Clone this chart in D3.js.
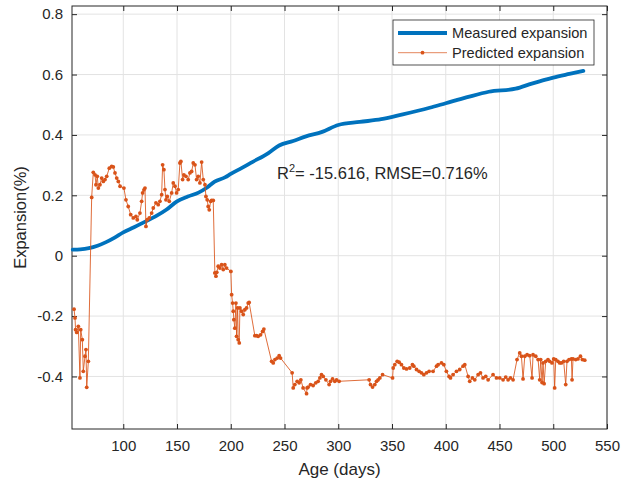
<!DOCTYPE html>
<html>
<head>
<meta charset="utf-8">
<script src="https://cdn.jsdelivr.net/npm/d3@7"></script>
<style>
  html, body { margin: 0; padding: 0; background: #fff; }
  svg { display: block; }
  text { font-family: "Liberation Sans", Arial, Helvetica, sans-serif; fill: #262626; }
</style>
</head>
<body>
<svg id="chart" width="621" height="483"></svg>
<script>
// Measured expansion (%) against age (days)
const measuredAge = [53, 60, 68, 76, 84, 92, 100, 110, 120, 130, 140, 150, 160, 170, 178, 185, 195, 200, 210, 220, 235, 245, 258, 270, 285, 300, 320, 340, 360, 385, 400, 420, 440, 465, 480, 500, 515, 528];
const measuredExp = [0.020, 0.021, 0.025, 0.033, 0.045, 0.060, 0.077, 0.094, 0.112, 0.130, 0.152, 0.180, 0.196, 0.209, 0.226, 0.245, 0.260, 0.271, 0.290, 0.310, 0.340, 0.365, 0.380, 0.395, 0.410, 0.433, 0.443, 0.452, 0.468, 0.490, 0.505, 0.525, 0.543, 0.553, 0.570, 0.590, 0.602, 0.612];

// Predicted expansion (%) against age (days)
const predictedAge = [54.2, 55.1, 55.6, 56.7, 58.2, 59.7, 60.4, 61.9, 62.8, 64.4, 65.3, 66.0, 67.5, 70.6, 72.1, 73.7, 74.6, 75.8, 76.8, 78.3, 79.9, 81.4, 83.0, 84.6, 87.0, 89.2, 90.7, 92.3, 93.9, 95.4, 97.0, 100.6, 102.5, 104.6, 106.9, 109.3, 111.8, 113.0, 115.5, 117.1, 118.0, 119.2, 120.2, 121.1, 122.3, 124.2, 126.4, 127.9, 130.4, 132.5, 134.1, 135.7, 136.6, 137.8, 138.8, 139.7, 140.9, 142.8, 145.0, 146.5, 148.1, 149.6, 151.1, 152.7, 153.6, 155.2, 156.4, 158.3, 160.4, 162.0, 163.6, 165.1, 166.7, 168.2, 169.7, 171.3, 172.9, 174.4, 176.0, 176.9, 178.1, 179.0, 180.0, 181.3, 182.2, 183.7, 185.2, 186.2, 187.0, 188.3, 189.9, 191.5, 193.0, 194.5, 196.1, 200.1, 200.8, 201.7, 202.3, 202.9, 203.8, 204.8, 205.4, 206.4, 206.9, 207.9, 208.5, 210.1, 211.6, 213.1, 214.7, 216.2, 217.1, 222.4, 224.0, 225.5, 227.7, 229.6, 230.8, 238.0, 239.5, 241.1, 243.2, 245.0, 246.3, 257.1, 258.1, 259.6, 261.8, 263.6, 265.2, 267.3, 270.5, 271.0, 272.0, 274.2, 276.6, 279.1, 281.3, 282.9, 284.4, 286.0, 288.5, 291.5, 292.8, 294.7, 296.8, 298.4, 300.8, 328.7, 330.0, 331.9, 334.0, 335.6, 337.1, 338.7, 341.2, 350.5, 351.1, 352.6, 354.8, 356.6, 358.8, 361.0, 363.5, 366.5, 369.0, 370.3, 372.8, 375.2, 377.4, 379.6, 382.1, 384.5, 388.2, 391.4, 392.9, 396.0, 398.2, 400.6, 403.1, 404.4, 406.8, 410.0, 413.0, 416.1, 417.7, 420.8, 422.3, 424.8, 427.0, 430.1, 432.3, 434.7, 437.2, 439.4, 444.0, 447.2, 450.2, 453.3, 455.8, 458.0, 460.2, 462.6, 466.3, 468.8, 470.4, 471.9, 473.5, 475.7, 478.1, 480.3, 481.2, 483.7, 485.9, 487.4, 488.3, 489.6, 490.5, 491.5, 493.0, 495.1, 496.7, 498.8, 500.4, 501.3, 502.3, 504.4, 506.0, 507.6, 509.7, 511.6, 512.8, 514.7, 516.9, 517.5, 518.4, 520.9, 523.0, 525.3, 527.1, 529.3];
const predictedExp = [-0.177, -0.206, -0.245, -0.254, -0.234, -0.405, -0.245, -0.278, -0.383, -0.333, -0.311, -0.436, -0.350, 0.193, 0.276, 0.268, 0.235, 0.263, 0.224, 0.235, 0.257, 0.246, 0.252, 0.263, 0.290, 0.296, 0.294, 0.274, 0.257, 0.246, 0.230, 0.224, 0.185, 0.163, 0.136, 0.125, 0.130, 0.119, 0.141, 0.180, 0.208, 0.218, 0.224, 0.097, 0.119, 0.125, 0.141, 0.158, 0.175, 0.169, 0.180, 0.202, 0.301, 0.285, 0.219, 0.185, 0.196, 0.180, 0.208, 0.241, 0.230, 0.208, 0.219, 0.307, 0.312, 0.252, 0.268, 0.263, 0.252, 0.274, 0.279, 0.307, 0.301, 0.252, 0.263, 0.241, 0.310, 0.252, 0.235, 0.196, 0.185, 0.163, 0.152, 0.180, 0.183, 0.183, -0.057, -0.068, -0.055, -0.035, -0.041, -0.030, -0.046, -0.030, -0.041, -0.052, -0.129, -0.157, -0.184, -0.212, -0.240, -0.157, -0.267, -0.173, -0.278, -0.289, -0.173, -0.184, -0.195, -0.179, -0.173, -0.157, -0.155, -0.265, -0.265, -0.267, -0.262, -0.251, -0.243, -0.350, -0.355, -0.344, -0.339, -0.331, -0.339, -0.388, -0.438, -0.427, -0.416, -0.421, -0.411, -0.438, -0.457, -0.438, -0.435, -0.427, -0.430, -0.421, -0.416, -0.405, -0.394, -0.400, -0.411, -0.427, -0.416, -0.408, -0.416, -0.411, -0.416, -0.411, -0.427, -0.435, -0.427, -0.416, -0.411, -0.405, -0.394, -0.405, -0.372, -0.361, -0.350, -0.353, -0.361, -0.372, -0.375, -0.372, -0.361, -0.366, -0.377, -0.383, -0.388, -0.394, -0.388, -0.383, -0.383, -0.366, -0.361, -0.355, -0.361, -0.383, -0.400, -0.405, -0.394, -0.383, -0.377, -0.366, -0.361, -0.400, -0.416, -0.405, -0.411, -0.394, -0.388, -0.405, -0.400, -0.411, -0.394, -0.405, -0.405, -0.411, -0.402, -0.411, -0.405, -0.411, -0.344, -0.322, -0.333, -0.408, -0.333, -0.328, -0.331, -0.405, -0.328, -0.333, -0.344, -0.411, -0.344, -0.420, -0.355, -0.424, -0.350, -0.344, -0.350, -0.355, -0.342, -0.438, -0.344, -0.350, -0.355, -0.355, -0.350, -0.427, -0.350, -0.344, -0.342, -0.411, -0.342, -0.344, -0.342, -0.333, -0.344, -0.346];

const xTicks = [100, 150, 200, 250, 300, 350, 400, 450, 500, 550];
const yTicks = [-0.4, -0.2, 0, 0.2, 0.4, 0.6, 0.8];
const yTickLabels = ["-0.4", "-0.2", "0", "0.2", "0.4", "0.6", "0.8"];
const seriesNames = ["Measured expansion", "Predicted expansion"];
const statsText = { r2: "-15.616", rmse: "0.716%" };

const blue = "#0072BD";
const orange = "#D95319";
const ink = "#262626";

const plot = { left: 72, right: 607, top: 6, bottom: 429 };

const svg = d3.select("#chart");

const x = d3.scaleLinear().domain([52.3, 550]).range([plot.left, plot.right]);
const y = d3.scaleLinear().domain([-0.574, 0.827]).range([plot.bottom, plot.top]);

// Grid
const grid = svg.append("g").attr("stroke", "#e3e3e3").attr("stroke-width", 1);
grid.selectAll("line.gx").data(xTicks).join("line")
  .attr("x1", d => x(d)).attr("x2", d => x(d))
  .attr("y1", plot.top).attr("y2", plot.bottom);
grid.selectAll("line.gy").data(yTicks).join("line")
  .attr("x1", plot.left).attr("x2", plot.right)
  .attr("y1", d => y(d)).attr("y2", d => y(d));

// Axes (ticks pointing inward, box on all four sides)
const tickLen = 5;
const axisFont = "15px";

const xAxisBottom = d3.axisBottom(x).tickValues(xTicks).tickSizeInner(-tickLen).tickSizeOuter(0).tickPadding(11);
const xAxisTop = d3.axisTop(x).tickValues(xTicks).tickSizeInner(-tickLen).tickSizeOuter(0).tickFormat("");
const yAxisLeft = d3.axisLeft(y).tickValues(yTicks).tickSizeInner(-tickLen).tickSizeOuter(0).tickPadding(9)
  .tickFormat((d, i) => yTickLabels[i]);
const yAxisRight = d3.axisRight(y).tickValues(yTicks).tickSizeInner(-tickLen).tickSizeOuter(0).tickFormat("");

function styleAxis(g) {
  g.select(".domain").remove();
  g.selectAll(".tick line").attr("stroke", ink);
  g.selectAll(".tick text").attr("fill", ink).style("font-size", axisFont)
    .style("font-family", '"Liberation Sans", Arial, sans-serif');
}

svg.append("g").attr("transform", `translate(0,${plot.bottom})`).call(xAxisBottom).call(styleAxis);
svg.append("g").attr("transform", `translate(0,${plot.top})`).call(xAxisTop).call(styleAxis);
svg.append("g").attr("transform", `translate(${plot.left},0)`).call(yAxisLeft).call(styleAxis);
svg.append("g").attr("transform", `translate(${plot.right},0)`).call(yAxisRight).call(styleAxis);

svg.append("rect")
  .attr("x", plot.left).attr("y", plot.top)
  .attr("width", plot.right - plot.left).attr("height", plot.bottom - plot.top)
  .attr("fill", "none").attr("stroke", ink).attr("stroke-width", 1);

// Series
const measured = measuredAge.map((a, i) => [a, measuredExp[i]]);
const predicted = predictedAge.map((a, i) => [a, predictedExp[i]]);

const line = d3.line().x(d => x(d[0])).y(d => y(d[1]));

svg.append("path").datum(measured)
  .attr("d", d3.line().curve(d3.curveMonotoneX).x(d => x(d[0])).y(d => y(d[1])))
  .attr("fill", "none").attr("stroke", blue).attr("stroke-width", 3.8)
  .attr("stroke-linejoin", "round").attr("stroke-linecap", "round");

svg.append("path").datum(predicted)
  .attr("d", line)
  .attr("fill", "none").attr("stroke", orange).attr("stroke-width", 1).attr("stroke-opacity", 0.85);

svg.append("g").selectAll("circle").data(predicted).join("circle")
  .attr("cx", d => x(d[0])).attr("cy", d => y(d[1]))
  .attr("r", 1.9).attr("fill", orange);

// Statistics annotation
const stats = svg.append("text").attr("x", 277).attr("y", 179).style("font-size", "16.5px");
stats.append("tspan").text("R");
stats.append("tspan").attr("dy", -7).style("font-size", "11px").text("2");
stats.append("tspan").attr("dy", 7).text(`= ${statsText.r2}, RMSE=${statsText.rmse}`);

// Legend
const legend = svg.append("g");
legend.append("rect")
  .attr("x", 393).attr("y", 20).attr("width", 201).attr("height", 45)
  .attr("fill", "#fff").attr("stroke", ink).attr("stroke-width", 0.8);
const rows = [33, 52.7];
legend.append("line").attr("x1", 398).attr("x2", 447).attr("y1", rows[0]).attr("y2", rows[0])
  .attr("stroke", blue).attr("stroke-width", 3.8);
legend.append("line").attr("x1", 398).attr("x2", 447).attr("y1", rows[1]).attr("y2", rows[1])
  .attr("stroke", orange).attr("stroke-width", 1).attr("stroke-opacity", 0.7);
legend.append("circle").attr("cx", 422.5).attr("cy", rows[1]).attr("r", 1.9).attr("fill", orange);
legend.selectAll("text.lg").data(seriesNames).join("text")
  .attr("x", 452).attr("y", (d, i) => rows[i] + 5)
  .style("font-size", "14.6px").text(d => d);

// Axis titles
svg.append("text")
  .attr("x", (plot.left + plot.right) / 2).attr("y", 475)
  .attr("text-anchor", "middle").style("font-size", "17px").text("Age (days)");
svg.append("text")
  .attr("transform", `translate(26,${(plot.top + plot.bottom) / 2}) rotate(-90)`)
  .attr("text-anchor", "middle").style("font-size", "16.5px").text("Expansion(%)");
</script>
</body>
</html>
